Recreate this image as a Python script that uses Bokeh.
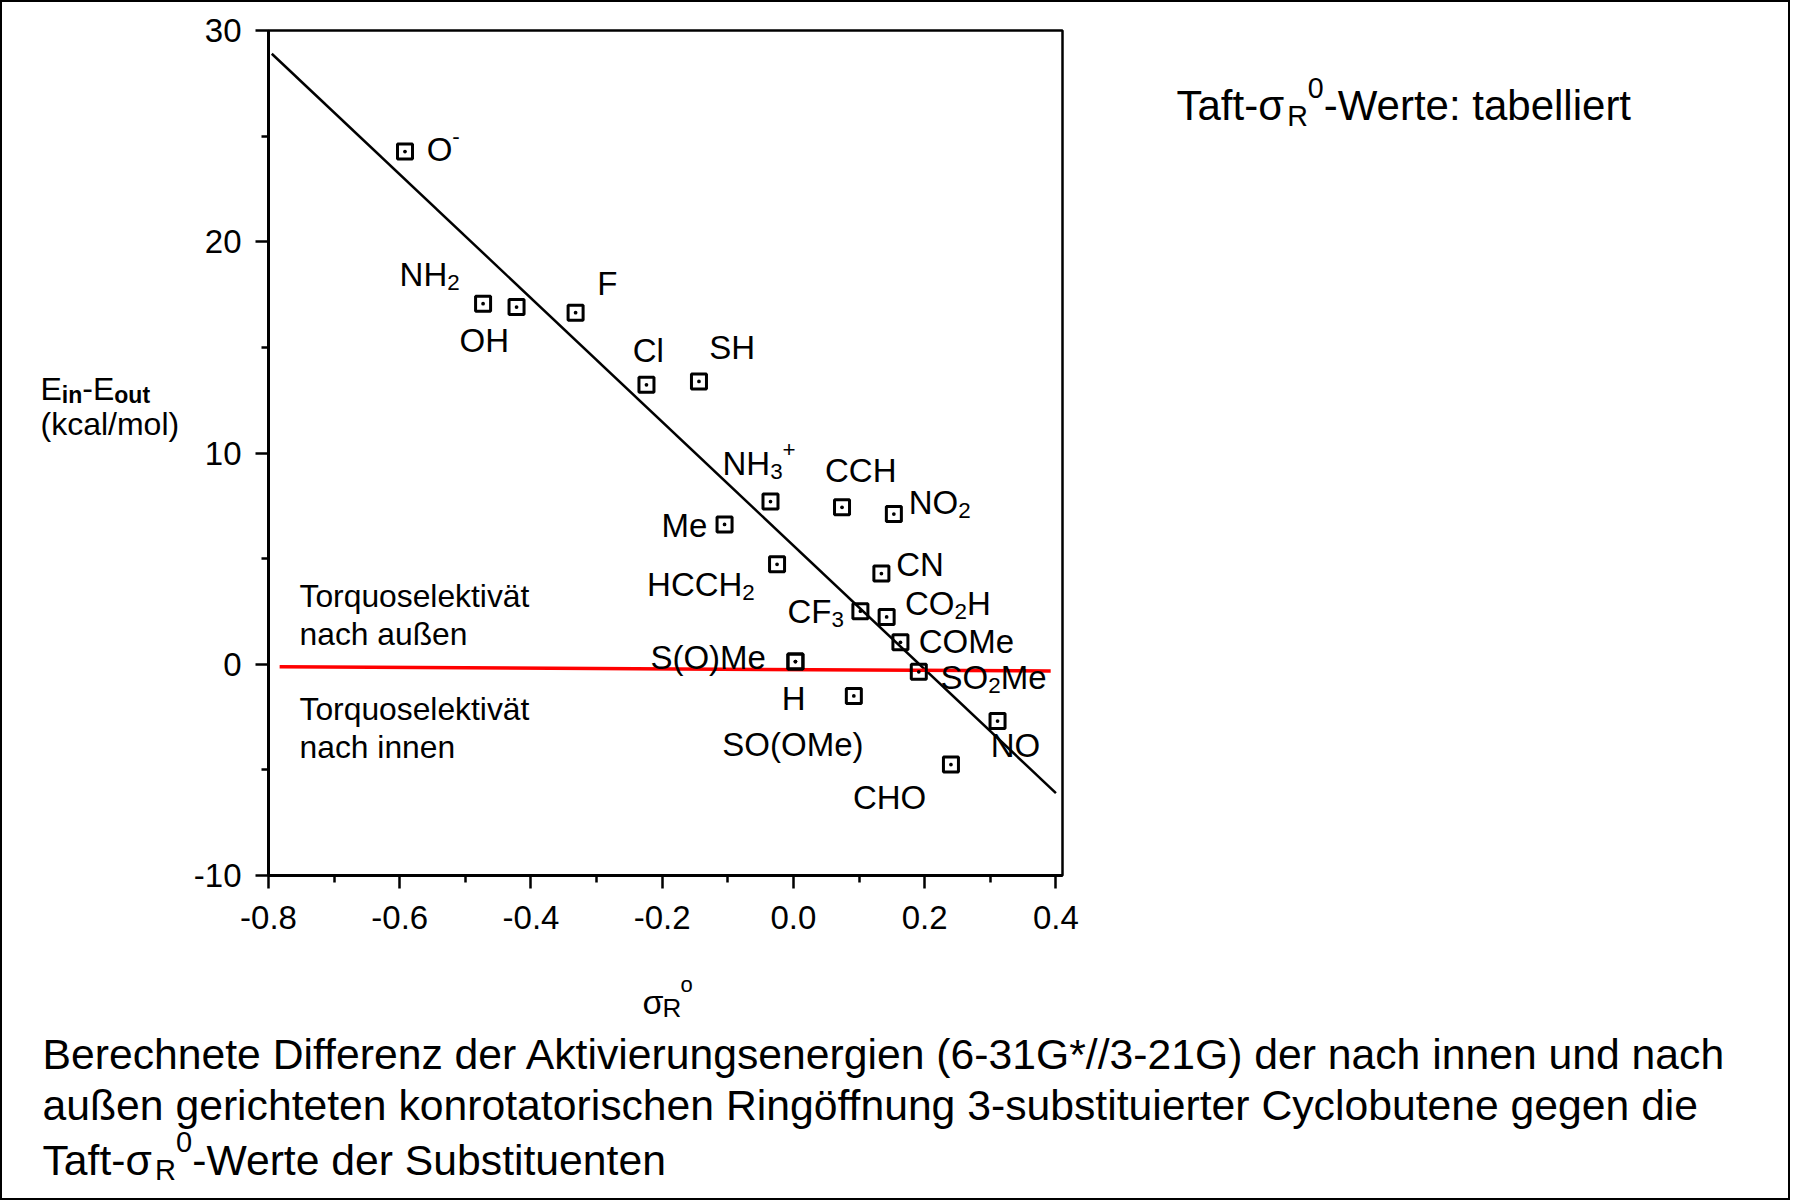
from bokeh.plotting import figure
from bokeh.models import (Range1d, FixedTicker, PrintfTickFormatter, Label,
                          BoxAnnotation, ColumnDataSource)
from bokeh.core.properties import value
from bokeh.embed import file_html
from bokeh.resources import INLINE

# ---------------- data ----------------
substituents = ["O^-", "NH_2", "OH", "F", "Cl", "SH", "NH_3^+", "CCH", "NO_2", "Me",
                "HCCH_2", "CN", "CF_3", "CO_2H", "COMe", "S(O)Me", "H", "SO_2Me",
                "SO(OMe)", "NO", "CHO"]
sigma_R0 = [-0.592, -0.473, -0.422, -0.332, -0.224, -0.144, -0.035, 0.074, 0.153, -0.105,
            -0.025, 0.134, 0.102, 0.142, 0.163, 0.003, 0.003, 0.191,
            0.092, 0.311, 0.240]
dE_in_out = [24.27, 17.07, 16.91, 16.64, 13.23, 13.39, 7.70, 7.43, 7.11, 6.62,
             4.73, 4.29, 2.51, 2.24, 1.04, 0.13, 0.13, -0.36,
             -1.50, -2.69, -4.75]

fit_sigma = [-0.795, 0.400]
fit_dE = [28.9, -6.1]
zero_sigma = [-0.783, 0.392]
zero_dE = [-0.12, -0.32]

x_ticks = [-0.8, -0.6, -0.4, -0.2, 0.0, 0.2, 0.4]
y_ticks = [-10, 0, 10, 20, 30]
X_MIN, X_MAX = -0.8, 0.41
Y_MIN, Y_MAX = -10, 30

# label placement (pixels, from marker centre to left end of text baseline; +dy = down)
label_offsets = [(21.7, 11.4), (-83.5, -16), (-57, 46.9), (21.7, -16), (-13.7, -21.7),
                 (10.3, -20.6), (-48, -25), (-17, -24), (14.9, 1.1), (-63, 13.7),
                 (-130, 33), (14.9, 3.4), (-73, 13.7), (18.3, 0), (18.3, 12.6),
                 (-145, 9), (-13.7, 50), (21.7, 18.3), (-131.5, 61.7), (-6.9, 37.7),
                 (-98, 45.7)]
LABEL_SHIFT = -13

# ---------------- helpers ----------------
W = {' ': 278, '!': 278, '(': 333, ')': 333, '*': 389, '+': 584, ',': 278, '-': 333,
     '.': 278, '/': 278, ':': 278, 'A': 667, 'B': 667, 'C': 722, 'D': 722, 'E': 667,
     'F': 611, 'G': 778, 'H': 722, 'I': 278, 'J': 500, 'K': 667, 'L': 556, 'M': 833,
     'N': 722, 'O': 778, 'P': 667, 'Q': 778, 'R': 722, 'S': 667, 'T': 611, 'U': 722,
     'V': 667, 'W': 944, 'X': 667, 'Y': 667, 'Z': 611, 'a': 556, 'b': 556, 'c': 500,
     'd': 556, 'e': 556, 'f': 278, 'g': 556, 'h': 556, 'i': 222, 'j': 222, 'k': 500,
     'l': 222, 'm': 833, 'n': 556, 'o': 556, 'p': 556, 'q': 556, 'r': 333, 's': 500,
     't': 278, 'u': 556, 'v': 500, 'w': 722, 'x': 500, 'y': 500, 'z': 500, 'ä': 556,
     'ö': 556, 'ü': 556, 'ß': 611, 'σ': 580}
WB = {'i': 278, 'n': 611, 'o': 611, 'u': 611, 't': 333}


def tw(s, size, bold=False):
    tab = WB if bold else W
    return sum(tab.get(c, W.get(c, 556)) for c in s) * size / 1000.0


def parse(markup):
    parts, buf, i = [], "", 0
    while i < len(markup):
        c = markup[i]
        if c in "_^" and i + 1 < len(markup):
            if buf:
                parts.append((buf, "n"))
                buf = ""
            parts.append((markup[i + 1], "sub" if c == "_" else "sup"))
            i += 2
        else:
            buf += c
            i += 1
    if buf:
        parts.append((buf, "n"))
    return parts


FONT = "Liberation Sans"
FIG_W, FIG_H = 1790, 1200
FL, FR, FT, FB = 268, 1062, 30, 875        # pixel edges of the data box
KX = (FR - FL) / (X_MAX - X_MIN)
KY = (FB - FT) / (Y_MAX - Y_MIN)


def px2x(fx):
    return X_MIN + (fx - FL) / KX


def px2y(fy):
    return Y_MIN + (FB - fy) / KY


p = figure(width=FIG_W, height=FIG_H,
           x_range=Range1d(px2x(0), px2x(FIG_W)), y_range=Range1d(px2y(FIG_H), px2y(0)),
           output_backend="svg", toolbar_location=None,
           min_border=0, min_border_left=0, min_border_right=0,
           min_border_top=0, min_border_bottom=0)
p.xgrid.visible = False
p.ygrid.visible = False
p.background_fill_color = "white"
p.border_fill_color = "white"
p.outline_line_color = "black"     # slide border
p.outline_line_width = 3
p.outline_line_alpha = 1

p.xaxis.ticker = FixedTicker(ticks=x_ticks,
                             minor_ticks=[(a + b) / 2 for a, b in zip(x_ticks[:-1], x_ticks[1:])])
p.yaxis.ticker = FixedTicker(ticks=y_ticks,
                             minor_ticks=[(a + b) / 2 for a, b in zip(y_ticks[:-1], y_ticks[1:])])
p.xaxis.formatter = PrintfTickFormatter(format="%.1f")
p.yaxis.formatter = PrintfTickFormatter(format="%d")
p.xaxis.fixed_location = Y_MIN
p.yaxis.fixed_location = X_MIN
p.xaxis.bounds = (X_MIN, X_MAX)
p.yaxis.bounds = (Y_MIN, Y_MAX)
for ax in (p.xaxis, p.yaxis):
    ax.axis_line_width = 3
    ax.axis_line_color = "black"
    ax.major_tick_line_width = 2.5
    ax.minor_tick_line_width = 2.5
    ax.major_tick_line_color = "black"
    ax.minor_tick_line_color = "black"
    ax.major_tick_in = 0
    ax.minor_tick_in = 0
    ax.major_tick_out = 13
    ax.minor_tick_out = 7
    ax.major_label_text_font = FONT
    ax.major_label_text_font_size = "33px"
    ax.major_label_text_color = "black"
p.xaxis.major_label_standoff = 17
p.yaxis.major_label_standoff = 14

# plot box (top and right edges of the data area)
p.add_layout(BoxAnnotation(left=X_MIN, right=X_MAX, bottom=Y_MIN, top=Y_MAX,
                           fill_color=None, fill_alpha=0, line_color="black",
                           line_alpha=1, line_width=2.5))

# regression line and zero line
p.line(fit_sigma, fit_dE, line_color="black", line_width=2.5)
p.line(zero_sigma, zero_dE, line_color="#ff0000", line_width=3.5)

# points
p.scatter(sigma_R0, dE_in_out, marker="square_dot", size=15, line_color="black",
          line_width=3, fill_color=None)

# point labels (with sub/superscripts)
LFS = 33
cols = dict(x=[], y=[], text=[], xo=[], yo=[], fs=[])
for name, sx, sy, (dx, dy) in zip(substituents, sigma_R0, dE_in_out, label_offsets):
    cx = dx
    for s, kind in parse(name):
        if kind == "n":
            size, oy = LFS, 0
        elif kind == "sub":
            size, oy = LFS * 0.68, LFS * 0.24
        else:
            size, oy = LFS * 0.68, -LFS * 0.42
        cols["x"].append(sx)
        cols["y"].append(sy)
        cols["text"].append(s)
        cols["xo"].append(cx)
        cols["yo"].append(dy + oy + LABEL_SHIFT)
        cols["fs"].append(f"{size:.1f}px")
        cx += tw(s, size)
p.text(x="x", y="y", text="text", x_offset="xo", y_offset="yo", text_font_size="fs",
       text_font=value(FONT), text_baseline="alphabetic", text_align="left",
       text_color="black", source=ColumnDataSource(cols))

# region notes inside the plot
for txt, yv in [("Torquoselektivät", 3.24), ("nach außen", 1.43),
                ("Torquoselektivät", -2.14), ("nach innen", -3.94)]:
    p.add_layout(Label(x=-0.7527, y=yv, text=txt, text_font=FONT, text_font_size="31.8px",
                       text_baseline="alphabetic", text_align="left", text_color="black"))


def add_at(s, fx, fy, fs, style="normal"):
    p.add_layout(Label(x=px2x(fx), y=px2y(fy), text=s, text_font=FONT,
                       text_font_size=f"{fs:.1f}px", text_baseline="alphabetic",
                       text_align="left", text_color="black", text_font_style=style))


def add_rich(markup, fx, fy, fs):
    x = fx
    for s, kind in parse(markup):
        if kind == "n":
            size, dy = fs, 0
        elif kind == "sub":
            size, dy = fs * 0.68, fs * 0.24
        else:
            size, dy = fs * 0.68, -fs * 0.42
        add_at(s, x, fy + dy, size)
        x += tw(s, size)


# y axis title: E_in - E_out (kcal/mol)
yx = 40
for s, size, dy, bold in [("E", 32, 0, False), ("in", 23, 6, True), ("-", 32, -1, False),
                          ("E", 32, 0, False), ("out", 23, 6, True)]:
    add_at(s, yx, 388 + dy, size, "bold" if bold else "normal")
    yx += tw(s, size, bold)
add_at("(kcal/mol)", 40, 423, 32)

# x axis title: sigma_R^o
add_at("σ", 642, 1001, 34)
add_at("R", 662, 1007, 26)
add_at("o", 680, 984, 22)

# side note
add_rich("Taft-σ_R^0-Werte: tabelliert", 1176, 105, 42)

# caption
add_rich("Berechnete Differenz der Aktivierungsenergien (6-31G*//3-21G) der nach innen und nach",
         42, 1053, 42.7)
add_rich("außen gerichteten konrotatorischen Ringöffnung 3-substituierter Cyclobutene gegen die",
         42, 1104, 42.7)
add_rich("Taft-σ_R^0-Werte der Substituenten", 42, 1159, 42.7)

open("out.html", "w").write(file_html(p, INLINE))
